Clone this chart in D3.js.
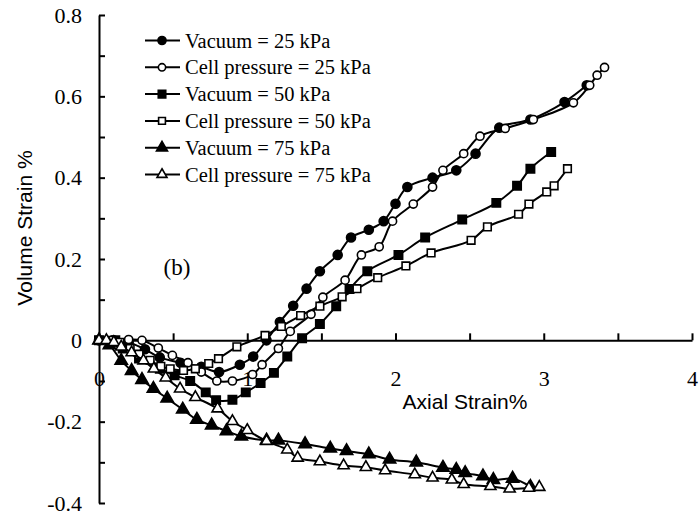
<!DOCTYPE html>
<html>
<head>
<meta charset="utf-8">
<script src="https://cdn.jsdelivr.net/npm/d3@7"></script>
<style>
  body { margin: 0; background: #fff; }
</style>
</head>
<body>
<div id="chart"></div>
<script>
// axial strain % / volume strain %
var vac25 = [[0,0],[0.1,0],[0.2,-0.005],[0.31,-0.022],[0.41,-0.042],[0.55,-0.055],[0.69,-0.065],[0.81,-0.078],[0.95,-0.06],[1.04,-0.04],[1.13,0.0],[1.22,0.045],[1.31,0.085],[1.40,0.127],[1.49,0.17],[1.61,0.21],[1.70,0.253],[1.82,0.272],[1.92,0.293],[2.0,0.336],[2.08,0.377],[2.25,0.40],[2.41,0.418],[2.54,0.459],[2.70,0.523],[2.91,0.543],[3.14,0.586],[3.29,0.627]];
var cell25 = [[0,0],[0.2,0.002],[0.29,0.0],[0.40,-0.019],[0.495,-0.037],[0.60,-0.055],[0.69,-0.078],[0.795,-0.10],[0.90,-0.10],[1.036,-0.084],[1.10,-0.06],[1.21,-0.02],[1.29,0.022],[1.43,0.064],[1.51,0.106],[1.66,0.148],[1.77,0.21],[1.89,0.23],[1.98,0.293],[2.12,0.335],[2.25,0.377],[2.32,0.418],[2.46,0.459],[2.57,0.502],[2.74,0.521],[2.93,0.543],[3.20,0.584],[3.31,0.627],[3.36,0.652],[3.41,0.671]];
var vac50 = [[0,0],[0.11,0],[0.16,-0.02],[0.27,-0.045],[0.41,-0.07],[0.51,-0.086],[0.615,-0.10],[0.72,-0.128],[0.79,-0.147],[0.90,-0.146],[0.99,-0.128],[1.09,-0.105],[1.18,-0.08],[1.27,-0.04],[1.37,0.005],[1.49,0.04],[1.60,0.084],[1.69,0.126],[1.81,0.17],[2.02,0.21],[2.20,0.253],[2.45,0.297],[2.68,0.338],[2.82,0.38],[2.91,0.422],[3.05,0.463]];
var cell50 = [[0,0],[0.07,0],[0.14,-0.005],[0.21,-0.02],[0.27,-0.034],[0.345,-0.049],[0.417,-0.064],[0.48,-0.07],[0.57,-0.074],[0.65,-0.07],[0.74,-0.057],[0.806,-0.045],[0.93,-0.016],[1.12,0.012],[1.23,0.034],[1.36,0.061],[1.49,0.084],[1.64,0.107],[1.74,0.127],[1.88,0.154],[2.07,0.183],[2.24,0.215],[2.51,0.246],[2.62,0.279],[2.83,0.31],[2.90,0.335],[3.02,0.365],[3.07,0.38],[3.16,0.422]];
var vac75 = [[0,0],[0.07,-0.012],[0.15,-0.05],[0.22,-0.075],[0.29,-0.097],[0.367,-0.119],[0.46,-0.143],[0.565,-0.17],[0.66,-0.195],[0.76,-0.209],[0.86,-0.223],[0.96,-0.236],[1.13,-0.246],[1.21,-0.246],[1.39,-0.255],[1.56,-0.266],[1.67,-0.272],[1.82,-0.28],[1.96,-0.293],[2.14,-0.30],[2.32,-0.313],[2.41,-0.318],[2.47,-0.326],[2.59,-0.334],[2.66,-0.343],[2.79,-0.34],[2.91,-0.36]];
var cell75 = [[0,0],[0.05,0],[0.1,-0.005],[0.15,-0.016],[0.22,-0.03],[0.30,-0.05],[0.37,-0.07],[0.45,-0.092],[0.547,-0.119],[0.65,-0.14],[0.80,-0.168],[0.90,-0.199],[1.0,-0.221],[1.13,-0.248],[1.27,-0.269],[1.34,-0.289],[1.49,-0.298],[1.65,-0.308],[1.80,-0.312],[1.93,-0.32],[2.13,-0.33],[2.25,-0.338],[2.38,-0.343],[2.46,-0.354],[2.64,-0.359],[2.77,-0.365],[2.90,-0.363],[2.97,-0.361]];

var seriesNames = ["Vacuum = 25 kPa", "Cell pressure = 25 kPa", "Vacuum = 50 kPa", "Cell pressure = 50 kPa", "Vacuum = 75 kPa", "Cell pressure = 75 kPa"];
var xTicks = [0, 0.5, 1, 1.5, 2, 2.5, 3, 3.5, 4];
var yTicks = [-0.4, -0.3, -0.2, -0.1, 0, 0.1, 0.2, 0.3, 0.4, 0.5, 0.6, 0.7, 0.8];

var serif = "'Liberation Serif', 'Times New Roman', Times, serif";
var sans = "'Liberation Sans', Arial, Helvetica, sans-serif";

var series = [
  { name: seriesNames[0], values: vac25, shape: d3.symbolCircle, filled: true, size: 64 },
  { name: seriesNames[1], values: cell25, shape: d3.symbolCircle, filled: false, size: 52 },
  { name: seriesNames[2], values: vac50, shape: d3.symbolSquare, filled: true, size: 70 },
  { name: seriesNames[3], values: cell50, shape: d3.symbolSquare, filled: false, size: 58 },
  { name: seriesNames[4], values: vac75, shape: d3.symbolTriangle, filled: true, size: 66 },
  { name: seriesNames[5], values: cell75, shape: d3.symbolTriangle, filled: false, size: 54 }
];

var width = 699, height = 516;

var svg = d3.select("#chart")
  .append("svg")
  .attr("width", width)
  .attr("height", height);

var x = d3.scaleLinear().domain([0, 4]).range([99, 692]);
var y = d3.scaleLinear().domain([-0.4, 0.8]).range([503, 15]);

var fmt = function(d) { return Math.abs(d) < 1e-9 ? "0" : String(+d.toFixed(1)); };

// y axis, ticks pointing inward
var yAxisG = svg.append("g")
  .attr("transform", "translate(" + x(0) + ",0)")
  .call(d3.axisLeft(y)
    .tickValues(yTicks)
    .tickSize(-6)
    .tickSizeOuter(0)
    .tickPadding(17)
    .tickFormat(d => Math.round(d * 10) % 2 === 0 ? fmt(d) : ""));

// x axis through y = 0, labels set well below
var xAxisG = svg.append("g")
  .attr("transform", "translate(0," + y(0) + ")")
  .call(d3.axisBottom(x)
    .tickValues(xTicks)
    .tickSize(-7)
    .tickSizeOuter(0)
    .tickPadding(30)
    .tickFormat(d => d % 1 === 0 ? fmt(d) : ""));

[yAxisG, xAxisG].forEach(function(g) {
  g.attr("font-family", serif).attr("font-size", 22);
  g.select(".domain").attr("stroke", "#000").attr("stroke-width", 2);
  g.selectAll(".tick line").attr("stroke", "#000").attr("stroke-width", 2);
  g.selectAll(".tick text").attr("fill", "#000");
});

svg.append("text")
  .attr("x", 465)
  .attr("y", 409)
  .attr("text-anchor", "middle")
  .style("font-family", sans)
  .style("font-size", "21px")
  .text("Axial Strain%");

svg.append("text")
  .attr("transform", "translate(32,228) rotate(-90)")
  .attr("text-anchor", "middle")
  .style("font-family", sans)
  .style("font-size", "21px")
  .text("Volume Strain %");

svg.append("text")
  .attr("x", 177)
  .attr("y", 275)
  .attr("text-anchor", "middle")
  .style("font-family", serif)
  .style("font-size", "23px")
  .text("(b)");

var line = d3.line()
  .x(d => x(d[0]))
  .y(d => y(d[1]))
  .curve(d3.curveCatmullRom.alpha(0.5));

var groups = svg.selectAll(".series")
  .data(series)
  .enter()
  .append("g")
  .attr("class", "series");

groups.append("path")
  .attr("d", d => line(d.values))
  .attr("fill", "none")
  .attr("stroke", "#000")
  .attr("stroke-width", 2);

groups.each(function(s) {
  d3.select(this).selectAll(".pt")
    .data(s.values)
    .enter()
    .append("path")
    .attr("class", "pt")
    .attr("transform", d => "translate(" + x(d[0]) + "," + y(d[1]) + ")")
    .attr("d", d3.symbol().type(s.shape).size(s.size))
    .attr("fill", s.filled ? "#000" : "#fff")
    .attr("stroke", "#000")
    .attr("stroke-width", 1.6);
});

// legend
var legend = svg.append("g");
var rowY = d3.scaleLinear().domain([0, 5]).range([40.5, 174.5]);

legend.selectAll(".legend-item")
  .data(series)
  .enter()
  .append("g")
  .attr("class", "legend-item")
  .attr("transform", (d, i) => "translate(0," + rowY(i) + ")")
  .each(function(d) {
    var g = d3.select(this);
    g.append("line")
      .attr("x1", 145).attr("x2", 180)
      .attr("y1", 0).attr("y2", 0)
      .attr("stroke", "#000").attr("stroke-width", 2);
    g.append("path")
      .attr("transform", "translate(162,0)")
      .attr("d", d3.symbol().type(d.shape).size(d.size * 0.8))
      .attr("fill", d.filled ? "#000" : "#fff")
      .attr("stroke", "#000")
      .attr("stroke-width", 1.6);
    g.append("text")
      .attr("x", 185)
      .attr("y", 7)
      .style("font-family", serif)
      .style("font-size", "20.5px")
      .attr("fill", "#000")
      .text(d.name);
  });
</script>
</body>
</html>
